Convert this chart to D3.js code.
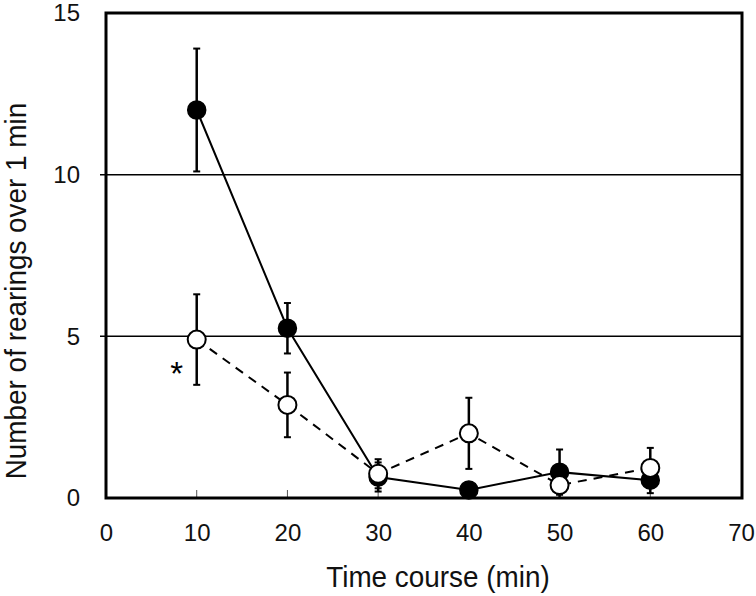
<!DOCTYPE html>
<html><head><meta charset="utf-8">
<script src="https://cdn.jsdelivr.net/npm/d3@7"></script>
<style>body{margin:0;background:#fff}svg{display:block;font-family:"Liberation Sans",Arial,sans-serif}</style>
</head><body>
<svg id="c" width="756" height="596"></svg>
<script>
const times = [10, 20, 30, 40, 50, 60];
const filledMean = [12.0, 5.25, 0.65, 0.25, 0.8, 0.55];
const filledErr  = [1.9, 0.78, 0.45, 0.0, 0.7, 0.4];
const openMean   = [4.9, 2.88, 0.75, 2.0, 0.4, 0.93];
const openErr    = [1.4, 1.0, 0.45, 1.1, 0.4, 0.62];
const xTicks = [0, 10, 20, 30, 40, 50, 60, 70];
const yTicks = [0, 5, 10, 15];
const gridVals = [5, 10];

const svg = d3.select("#c");
const L = 106, R = 741, T = 13, B = 498;
const x = d3.scaleLinear().domain([0, 70]).range([L, R]);
const y = d3.scaleLinear().domain([0, 15]).range([B, T]);

// gridlines
svg.selectAll(".grid").data(gridVals).enter().append("line")
  .attr("x1", L - 6).attr("x2", R).attr("y1", d => y(d)).attr("y2", d => y(d))
  .attr("stroke", "#000").attr("stroke-width", 1.5);

// x axis
const xAxis = d3.axisBottom(x).tickValues(xTicks).tickSize(0).tickPadding(26).tickFormat(d3.format("d"));
const gx = svg.append("g").attr("transform", `translate(0,${B})`).call(xAxis);
gx.select(".domain").remove();
gx.selectAll("text").attr("font-size", 24).attr("fill", "#111").attr("font-family", "Liberation Sans, Arial, sans-serif");
svg.selectAll(".xt").data(xTicks.filter(d => d > 0 && d < 70)).enter().append("line")
  .attr("x1", d => x(d)).attr("x2", d => x(d)).attr("y1", B).attr("y2", B - 8)
  .attr("stroke", "#555").attr("stroke-width", 1);

const yAxis = d3.axisLeft(y).tickValues(yTicks).tickSize(0).tickPadding(26).tickFormat(d3.format("d"));
const gy = svg.append("g").attr("transform", `translate(${L},0)`).call(yAxis);
gy.select(".domain").remove();
gy.selectAll("text").attr("font-size", 24).attr("fill", "#111").attr("font-family", "Liberation Sans, Arial, sans-serif");

// frame
svg.append("rect").attr("x", L).attr("y", T).attr("width", R + 1 - L).attr("height", B - T)
  .attr("fill", "none").attr("stroke", "#000").attr("stroke-width", 3);

// lines
const line = d3.line().x(d => x(d[0])).y(d => y(d[1]));
svg.append("path").datum(times.map((t, i) => [t, openMean[i]])).attr("d", line)
  .attr("fill", "none").attr("stroke", "#000").attr("stroke-width", 2).attr("stroke-dasharray", "9,7");
svg.append("path").datum(times.map((t, i) => [t, filledMean[i]])).attr("d", line)
  .attr("fill", "none").attr("stroke", "#000").attr("stroke-width", 2);

function errBars(mean, err) {
  const g = svg.append("g");
  times.forEach((t, i) => {
    if (!err[i]) return;
    const lo = Math.max(0, mean[i] - err[i]), hi = mean[i] + err[i];
    g.append("line").attr("x1", x(t)).attr("x2", x(t)).attr("y1", y(lo)).attr("y2", y(hi))
      .attr("stroke", "#000").attr("stroke-width", 2.5);
    [lo, hi].forEach(v => g.append("line").attr("x1", x(t) - 3.5).attr("x2", x(t) + 3.5)
      .attr("y1", y(v)).attr("y2", y(v)).attr("stroke", "#000").attr("stroke-width", 2));
  });
}
errBars(filledMean, filledErr);
errBars(openMean, openErr);

svg.selectAll(".fp").data(times).enter().append("circle")
  .attr("cx", d => x(d)).attr("cy", (d, i) => y(filledMean[i])).attr("r", 9)
  .attr("fill", "#000").attr("stroke", "#000").attr("stroke-width", 1.5);
svg.selectAll(".op").data(times).enter().append("circle")
  .attr("cx", d => x(d)).attr("cy", (d, i) => y(openMean[i])).attr("r", 9)
  .attr("fill", "#fff").attr("stroke", "#000").attr("stroke-width", 2);

// asterisk
svg.append("text").attr("x", x(10) - 20).attr("y", y(4.9) + 45).attr("text-anchor", "middle")
  .attr("font-size", 33).attr("fill", "#000").text("*");

// axis titles
svg.append("text").attr("transform", "translate(438,587) scale(0.93,1)").attr("text-anchor", "middle")
  .attr("font-size", 30).attr("fill", "#111").text("Time course (min)");
svg.append("text").attr("transform", "translate(26,291) rotate(-90) scale(0.93,1)").attr("text-anchor", "middle")
  .attr("font-size", 30).attr("fill", "#111").text("Number of rearings over 1 min");
</script>
</body></html>
